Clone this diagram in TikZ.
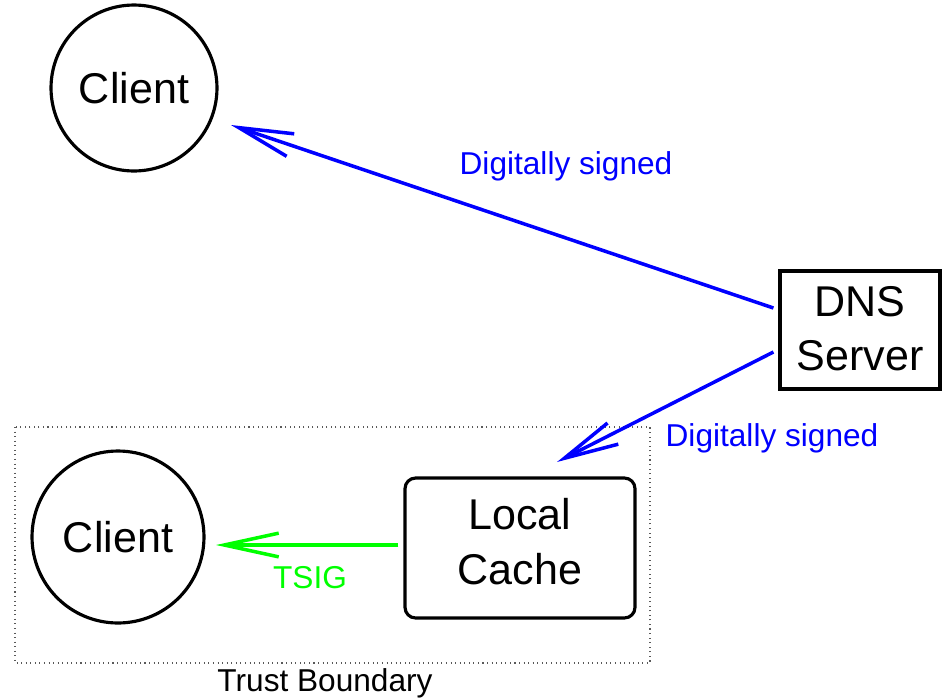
\documentclass[tikz,border=0pt]{standalone}
\usepackage{fontspec}
\setmainfont{Liberation Sans}
\usetikzlibrary{arrows.meta}
\definecolor{sigblue}{RGB}{0,0,255}
\definecolor{tsiggreen}{RGB}{0,255,0}
\tikzset{
  big/.style={font=\fontsize{24.5}{31}\selectfont, align=center},
  small/.style={font=\fontsize{18}{22}\selectfont},
  party/.style={circle, draw, line width=1.8pt, inner sep=0pt, big},
  server/.style={rectangle, draw, line width=1.8pt, inner sep=0pt, big,
    minimum width=3.2cm, minimum height=2.36cm, text depth=0.06cm},
  cache/.style={rectangle, rounded corners=6pt, draw, line width=1.8pt, inner sep=0pt, big,
    minimum width=4.6cm, minimum height=2.8cm, text depth=0.26cm},
  boundary/.style={draw=black!65, dotted, line width=0.6pt},
  flow/.style={line width=2pt, -{Straight Barb[length=31pt, width=13.5pt, line width=2pt]}},
}
\begin{document}
\begin{tikzpicture}[x=0.02cm, y=-0.02cm]
  \useasboundingbox (0,0) rectangle (943,697);

  % trust boundary around the local client and cache
  \draw[boundary] (15,427) rectangle (650,663);
  \node[small] (tb) at (325,683) {Trust Boundary};

  % parties
  \node[party, minimum size=3.32cm] (client1) at (134,88) {Client};
  \node[party, minimum size=3.44cm] (client2) at (118,537) {Client};
  \node[server] (dns) at (860,330) {DNS\\Server};
  \node[cache] (cache) at (520,548) {Local\\Cache};

  % connector end points
  \coordinate (d1) at ([shift={(-5,-22)}]dns.west);
  \coordinate (d2) at ([shift={(-5,22)}]dns.west);
  \coordinate (c1) at (231,125);
  \coordinate (lc) at (557,462);
  \coordinate (cw) at ([shift={(-5,-3)}]cache.west);
  \coordinate (c2) at (216,545);

  % signed responses and TSIG link
  \draw[flow, sigblue] (d1) -- (c1);
  \draw[flow, sigblue] (d2) -- (lc);
  \draw[flow, tsiggreen] (cw) -- (c2);

  \node[small, text=sigblue] (lab1) at (566,166) {Digitally signed};
  \node[small, text=sigblue] (lab2) at (772,438) {Digitally signed};
  \node[small, text=tsiggreen] (lab3) at (310,578) {TSIG};
\end{tikzpicture}
\end{document}
